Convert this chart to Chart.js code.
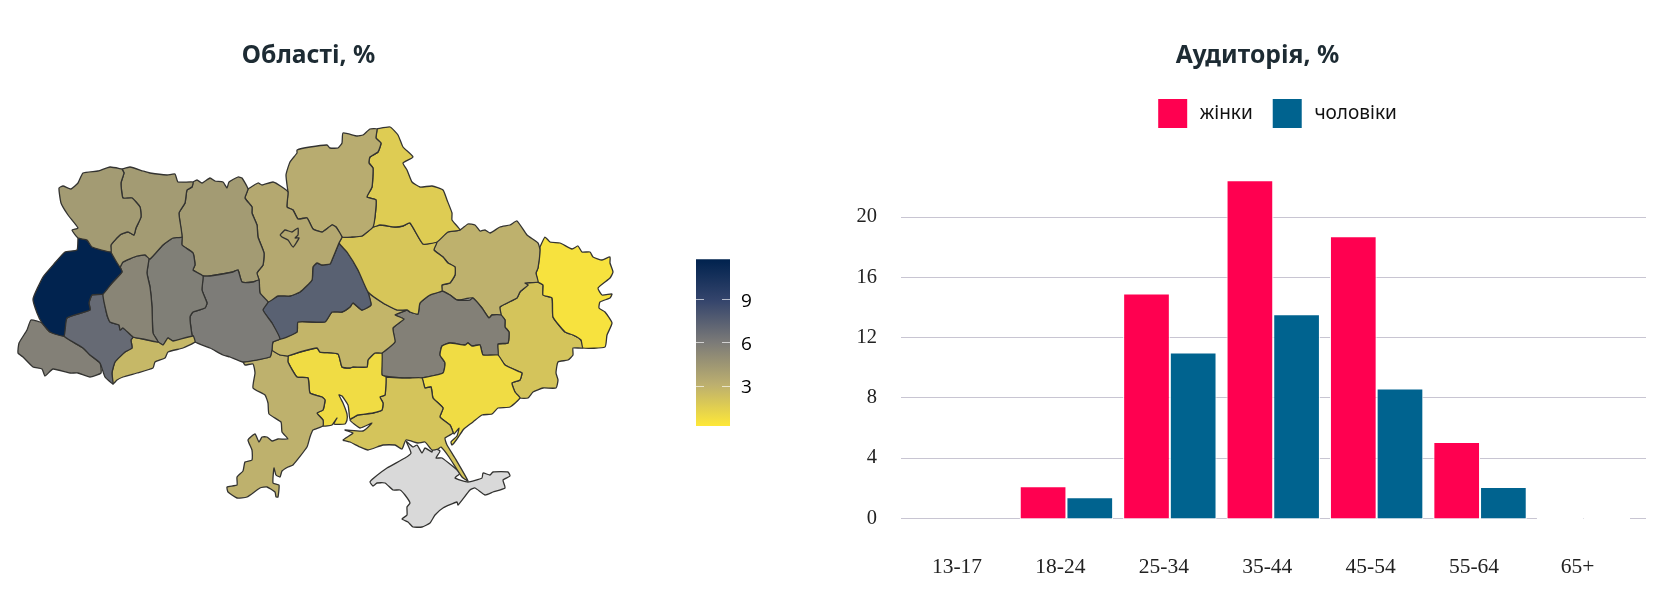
<!DOCTYPE html>
<html lang="uk">
<head>
<meta charset="utf-8">
<title>Області, Аудиторія</title>
<script src="https://cdn.jsdelivr.net/npm/chart.js@4"></script>
<style>
  html, body { margin: 0; background: #fff; }
  canvas { position: absolute; }
  #mapChart { left: 0; top: 0; }
  #scaleChart { left: 696px; top: 200px; }
  #audienceChart { left: 840px; top: 0; }
</style>
</head>
<body>
<canvas id="mapChart" width="617" height="606"></canvas>
<canvas id="scaleChart" width="90" height="300"></canvas>
<canvas id="audienceChart" width="832" height="606"></canvas>
<script>
// Аудиторія
const ageGroups = ['13-17', '18-24', '25-34', '35-44', '45-54', '55-64', '65+'];
const women = [null, 2.12, 14.93, 22.45, 18.72, 5.06, 0.03];
const men = [null, 1.4, 11.0, 13.55, 8.62, 2.07, 0.03];
const audienceTicks = [0, 4, 8, 12, 16, 20];

// Області: значення
const regionNames = ['volyn', 'rivne', 'lviv', 'ternopil', 'frankivsk', 'zakarpattia', 'chernivtsi', 'khmelnytskyi',
  'vinnytsia', 'zhytomyr', 'kyivCity', 'kyiv', 'chernihiv', 'sumy', 'poltava', 'cherkasy', 'kirovohrad', 'odesa',
  'mykolaiv', 'kherson', 'crimea', 'zaporizhzhia', 'dnipro', 'kharkiv', 'luhansk', 'donetsk'];
const regionValues = [4.25, 4.25, 11.7, 5.42, 6.9, 5.7, 2.68, 5.8,
  5.95, 4.25, 3.5, 3.5, 3.3, 1.65, 1.95, 7.4, 2.81, 3.03,
  0.85, 2.08, null, 0.85, 5.7, 3.03, 0.55, 2.08];

// Області: контури (одиниці карти)
const volyn = [[122,169],[110,167],[98,171],[83,173],[78,183],[71,189],[63,186],[59,188],[61,203],[68,215],[78,228],[72,230],[78,238],[87,240],[92,247],[111,252],[111,245],[120,235],[128,232],[134,235],[136,228],[141,217],[140,207],[132,198],[123,198],[121,183],[124,173]];
const rivne = [[122,169],[130,167],[143,171],[150,173],[167,175],[175,174],[178,182],[193,182],[192,187],[187,190],[185,203],[179,213],[182,237],[173,238],[163,245],[150,259],[145,255],[137,256],[123,262],[120,267],[111,252],[111,245],[120,235],[128,232],[134,235],[136,228],[141,217],[140,207],[132,198],[123,198],[121,183],[124,173]];
const lviv = [[78,238],[87,240],[92,247],[111,252],[120,267],[122,272],[112,283],[103,294],[92,295],[89,303],[90,310],[67,318],[64,336],[50,332],[42,323],[37,313],[33,299],[43,277],[54,264],[65,252],[77,250]];
const ternopil = [[120,267],[123,262],[137,256],[145,255],[149,258],[147,273],[150,287],[152,307],[153,333],[158,342],[143,339],[133,337],[123,328],[120,330],[119,325],[110,322],[107,315],[103,294],[112,283],[122,272]];
const frankivsk = [[103,294],[107,315],[110,322],[119,325],[120,330],[123,328],[133,337],[131,340],[132,348],[125,352],[115,362],[112,373],[113,384],[105,377],[100,363],[90,355],[83,348],[73,342],[64,336],[67,318],[90,310],[89,303],[92,295]];
const zakarpattia = [[64,336],[73,342],[83,348],[90,355],[100,363],[101,373],[90,377],[78,373],[70,373],[53,369],[45,376],[42,369],[33,367],[23,357],[18,353],[19,343],[27,330],[31,320],[42,323],[50,332]];
const chernivtsi = [[133,337],[143,339],[158,342],[163,345],[168,338],[173,341],[193,336],[195,342],[183,348],[168,352],[165,358],[155,362],[153,368],[137,373],[123,377],[117,380],[113,384],[112,373],[115,362],[125,352],[132,348],[131,340]];
const khmelnytskyi = [[149,258],[150,259],[163,245],[173,238],[182,237],[182,245],[193,253],[195,265],[193,270],[203,276],[202,290],[207,303],[205,308],[193,312],[190,317],[192,335],[193,336],[173,341],[168,338],[163,345],[158,342],[153,333],[152,307],[150,287],[147,273]];
const vinnytsia = [[203,276],[210,276],[233,272],[238,270],[242,282],[253,282],[259,280],[260,293],[268,302],[263,310],[272,323],[280,339],[273,342],[272,350],[270,357],[243,362],[230,357],[223,355],[210,348],[195,342],[193,336],[192,335],[190,317],[193,312],[205,308],[207,303],[202,290]];
const zhytomyr = [[193,182],[197,180],[202,183],[210,178],[215,181],[223,182],[227,188],[229,182],[238,177],[242,178],[248,189],[245,198],[252,207],[252,213],[257,225],[258,237],[264,253],[263,265],[257,273],[259,280],[253,282],[242,282],[238,270],[233,272],[210,276],[203,276],[193,270],[195,265],[193,253],[182,245],[182,237],[179,213],[185,203],[187,190],[192,187]];
const kyiv = [[248,189],[258,183],[262,185],[273,182],[282,187],[288,192],[287,207],[293,210],[298,219],[307,218],[313,229],[322,232],[332,225],[336,227],[342,237],[339,243],[332,260],[330,264],[322,265],[317,263],[313,267],[312,280],[300,292],[290,296],[278,296],[268,302],[260,293],[259,280],[257,273],[263,265],[264,253],[258,237],[257,225],[252,213],[252,207],[245,198]];
const kyivCity = [[280,235],[285,230],[292,232],[298,228],[298,235],[295,238],[299,238],[293,247],[288,240],[282,237]];
const chernihiv = [[288,192],[286,175],[290,162],[297,153],[297,150],[310,147],[327,145],[330,148],[338,148],[342,143],[343,133],[357,136],[363,135],[370,129],[377,129],[376,138],[381,143],[378,152],[370,157],[369,163],[373,168],[372,187],[367,197],[376,200],[375,217],[373,227],[362,236],[352,237],[342,237],[336,227],[332,225],[322,232],[313,229],[307,218],[298,219],[293,210],[287,207]];
const sumy = [[377,129],[390,127],[398,135],[403,147],[413,157],[403,163],[407,170],[412,182],[420,187],[432,186],[443,190],[447,200],[452,213],[452,220],[460,230],[448,232],[437,242],[423,244],[410,223],[403,226],[395,227],[380,225],[373,227],[375,217],[376,200],[367,197],[372,187],[373,168],[369,163],[370,157],[378,152],[381,143],[376,138]];
const poltava = [[342,237],[352,237],[362,236],[373,227],[380,225],[395,227],[403,226],[410,223],[423,244],[437,242],[434,250],[443,257],[448,263],[455,267],[455,275],[450,283],[442,285],[442,291],[430,295],[420,303],[418,314],[410,312],[407,310],[397,310],[383,303],[368,292],[358,270],[347,252],[339,243]];
const cherkasy = [[339,243],[347,252],[358,270],[368,292],[371,305],[362,310],[353,303],[350,307],[342,312],[332,312],[325,322],[298,322],[297,332],[280,339],[272,323],[263,310],[268,302],[278,296],[290,296],[300,292],[312,280],[313,267],[317,263],[322,265],[330,264],[332,260]];
const kirovohrad = [[280,339],[297,332],[298,322],[325,322],[332,312],[342,312],[350,307],[353,303],[362,310],[371,305],[368,292],[383,303],[397,310],[407,310],[395,315],[404,319],[393,328],[395,342],[382,353],[375,353],[368,360],[367,367],[353,367],[350,368],[342,367],[338,354],[320,352],[317,348],[300,352],[288,356],[280,355],[272,350],[273,342]];
const odesa = [[243,362],[270,357],[272,350],[280,355],[288,356],[288,362],[297,377],[308,378],[310,393],[322,397],[325,400],[323,410],[317,413],[323,420],[323,426],[313,430],[310,437],[307,447],[293,465],[288,467],[282,471],[280,477],[276,475],[274,468],[273,483],[279,485],[278,497],[276,497],[275,492],[267,487],[260,488],[247,497],[237,498],[228,492],[227,487],[237,485],[237,477],[243,471],[245,462],[252,460],[252,450],[248,440],[255,434],[259,442],[262,437],[267,437],[272,441],[278,439],[288,439],[282,432],[281,422],[269,414],[268,403],[265,395],[253,388],[255,373],[253,364],[245,365]];
const mykolaiv = [[288,356],[300,352],[317,348],[320,352],[338,354],[342,367],[350,368],[353,367],[367,367],[368,360],[375,353],[382,353],[382,375],[386,377],[385,395],[380,397],[383,403],[382,410],[373,413],[358,415],[350,419],[349,412],[348,405],[342,396],[339,395],[343,403],[347,414],[347,420],[345,424],[334,424],[337,418],[332,425],[323,426],[323,420],[317,413],[323,410],[325,400],[322,397],[310,393],[308,378],[297,377],[288,362]];
const kherson = [[386,377],[402,378],[410,378],[422,378],[425,388],[431,387],[433,398],[443,408],[440,417],[450,425],[453,433],[445,438],[447,445],[455,458],[468,481],[462,477],[449,457],[441,447],[438,449],[432,450],[425,442],[418,443],[406,440],[402,449],[395,445],[383,445],[368,450],[360,447],[350,442],[343,440],[353,433],[345,430],[363,431],[372,423],[360,428],[350,420],[358,415],[373,413],[382,410],[383,403],[380,397],[385,395]];
const crimea = [[406,441],[413,447],[417,445],[422,453],[425,448],[432,452],[433,448],[440,451],[436,458],[442,458],[460,473],[455,478],[468,482],[482,478],[483,473],[490,475],[493,472],[508,472],[510,476],[503,480],[505,488],[493,492],[485,495],[475,488],[470,490],[458,505],[457,502],[443,508],[435,515],[430,523],[422,527],[413,527],[408,522],[402,519],[407,515],[407,507],[410,503],[405,495],[400,490],[393,490],[385,483],[377,483],[373,486],[370,482],[375,477],[387,468],[405,458],[411,453]];
const zaporizhzhia = [[422,378],[443,373],[445,363],[440,355],[442,346],[450,343],[465,345],[468,343],[472,346],[480,345],[483,355],[498,355],[505,365],[520,372],[522,373],[520,380],[512,383],[515,392],[520,398],[510,407],[498,408],[492,414],[482,415],[473,422],[465,428],[463,430],[457,439],[452,445],[451,442],[457,436],[459,428],[454,434],[450,425],[440,417],[443,408],[433,398],[431,387],[425,388]];
const dnipro = [[395,342],[393,328],[404,319],[395,315],[407,310],[410,312],[418,314],[420,303],[430,295],[442,291],[450,295],[457,300],[470,300],[473,298],[482,308],[489,318],[492,315],[501,315],[505,320],[505,327],[509,332],[508,343],[498,344],[498,355],[483,355],[480,345],[472,346],[468,343],[465,345],[450,343],[442,346],[440,355],[445,363],[443,373],[422,378],[410,378],[402,378],[382,375],[382,353]];
const kharkiv = [[433,243],[448,232],[460,230],[468,224],[475,225],[480,231],[485,230],[490,233],[500,227],[510,225],[517,221],[527,235],[538,243],[540,250],[538,268],[536,273],[538,282],[525,283],[528,285],[520,292],[517,298],[500,307],[501,315],[492,315],[489,318],[482,308],[473,298],[457,300],[450,295],[442,291],[442,285],[450,283],[455,275],[455,267],[448,263],[443,257],[434,250]];
const luhansk = [[540,247],[545,237],[550,242],[560,243],[572,249],[578,246],[582,252],[590,252],[593,257],[602,260],[610,257],[610,263],[613,272],[610,278],[598,288],[602,295],[612,294],[610,298],[600,302],[599,308],[605,312],[612,323],[607,335],[605,347],[583,348],[581,340],[573,335],[565,332],[553,317],[552,298],[543,295],[543,285],[538,282],[536,273],[538,268]];
const donetsk = [[538,282],[543,285],[543,295],[552,298],[553,317],[565,332],[573,335],[581,340],[583,348],[573,348],[573,355],[568,360],[558,362],[556,373],[558,380],[556,388],[543,388],[533,392],[528,398],[520,398],[515,392],[512,383],[520,380],[522,373],[520,372],[505,365],[498,355],[498,344],[508,343],[509,332],[505,327],[505,320],[501,315],[500,307],[517,298],[520,292],[528,285],[525,283]];
// першим у списку малюється зверху, тому місто Київ перед областю
const regionShapes = [volyn, rivne, lviv, ternopil, frankivsk, zakarpattia, chernivtsi, khmelnytskyi,
  vinnytsia, zhytomyr, kyivCity, kyiv, chernihiv, sumy, poltava, cherkasy, kirovohrad, odesa,
  mykolaiv, kherson, crimea, zaporizhzhia, dnipro, kharkiv, luhansk, donetsk];

// Шкала кольорів
const scaleMin = 0.24;
const scaleMax = 11.76;
const scaleTicks = [3, 6, 9];
const scaleColors = [[254, 232, 56], [188, 175, 111], [124, 123, 120], [53, 69, 108], [0, 34, 78]];
const noDataColor = '#d9d9d9';

function colorForValue(value) {
  if (value === null) return noDataColor;
  const t = (value - scaleMin) / (scaleMax - scaleMin) * (scaleColors.length - 1);
  const i = Math.min(Math.floor(t), scaleColors.length - 2);
  const c = scaleColors[i].map((v, k) => Math.round(v + (scaleColors[i + 1][k] - v) * (t - i)));
  return `rgb(${c.join(',')})`;
}

const titleColor = '#1d2b33';
const titleFont = { family: '"Noto Sans"', size: 24.7, weight: 'bold' };

// карта
new Chart(document.getElementById('mapChart'), {
  type: 'scatter',
  data: {
    datasets: regionShapes.map((shape, i) => ({
      label: regionNames[i],
      data: shape.concat([shape[0]]).map(p => ({ x: p[0], y: p[1] })),
      showLine: true,
      fill: 'shape',
      tension: 0.15,
      backgroundColor: colorForValue(regionValues[i]),
      borderColor: '#333331',
      borderWidth: 1.3,
      pointRadius: 0
    }))
  },
  options: {
    responsive: false,
    animation: false,
    plugins: {
      legend: { display: false },
      tooltip: { enabled: false },
      title: {
        display: true,
        text: 'Області, %',
        color: titleColor,
        font: titleFont,
        padding: { top: 41, bottom: 29.36 }
      }
    },
    scales: {
      x: { display: false, min: 0, max: 617 },
      y: { display: false, min: 100, max: 606, reverse: true }
    }
  }
});

// шкала кольорів
new Chart(document.getElementById('scaleChart'), {
  type: 'bar',
  data: {
    labels: [''],
    datasets: [{
      data: [[scaleMin, scaleMax]],
      barPercentage: 1,
      categoryPercentage: 1,
      backgroundColor: (ctx) => {
        const area = ctx.chart.chartArea;
        if (!area) return scaleColors[0];
        const gradient = ctx.chart.ctx.createLinearGradient(0, area.bottom, 0, area.top);
        scaleColors.forEach((c, i) => gradient.addColorStop(i / (scaleColors.length - 1), `rgb(${c.join(',')})`));
        return gradient;
      }
    }]
  },
  options: {
    responsive: false,
    animation: false,
    layout: { padding: { top: 59.3, bottom: 74 } },
    plugins: { legend: { display: false }, tooltip: { enabled: false } },
    scales: {
      x: { display: false },
      y: {
        position: 'right',
        min: scaleMin,
        max: scaleMax,
        afterBuildTicks: (scale) => { scale.ticks = scaleTicks.map(value => ({ value })); },
        afterFit: (scale) => { scale.width = 56; },
        ticks: { padding: 11, labelOffset: 2, color: '#000', font: { family: '"Open Sans"', size: 19 } },
        grid: { color: 'rgba(255,255,255,0.65)', z: 1, drawTicks: false },
        border: { display: false, dash: [8, 18] }
      }
    }
  }
});

// заголовок і легенда стоять не по центру області графіка
const shiftHeader = {
  id: 'shiftHeader',
  afterLayout(chart) {
    chart.titleBlock.left += 14.5;
    chart.titleBlock.right += 14.5;
    chart.legend.left += 4;
    chart.legend.right += 4;
  }
};

// аудиторія
new Chart(document.getElementById('audienceChart'), {
  type: 'bar',
  data: {
    datasets: [
      { label: 'жінки', data: women.map((y, x) => ({ x, y })), backgroundColor: '#ff0050' },
      { label: 'чоловіки', data: men.map((y, x) => ({ x, y })), backgroundColor: '#00638f' }
    ]
  },
  plugins: [shiftHeader],
  options: {
    responsive: false,
    animation: false,
    layout: { padding: { right: 26, bottom: 27.7 } },
    datasets: {
      bar: {
        barPercentage: 1,
        categoryPercentage: 0.903,
        borderColor: '#fff',
        borderWidth: 1,
        borderSkipped: false,
        // біла рамка перекриває нульову лінію під стовпчиками
        base: -0.07,
        clip: 4
      }
    },
    plugins: {
      tooltip: { enabled: false },
      title: {
        display: true,
        text: 'Аудиторія, %',
        color: titleColor,
        font: titleFont,
        padding: { top: 41, bottom: 8.36 }
      },
      legend: {
        fullSize: false,
        labels: {
          boxWidth: 29,
          boxHeight: 29,
          padding: 20,
          color: '#111',
          font: { family: '"Noto Sans"', size: 19 },
          generateLabels: (chart) => Chart.defaults.plugins.legend.labels.generateLabels(chart)
            .map(item => ({ ...item, text: '\u2009' + item.text, lineWidth: 0 }))
        }
      }
    },
    scales: {
      x: {
        type: 'linear',
        offset: false,
        min: -0.6,
        max: 6.605,
        afterBuildTicks: (scale) => { scale.ticks = ageGroups.map((_, value) => ({ value })); },
        afterFit: (scale) => { scale.height = 60; },
        ticks: {
          callback: (value) => ageGroups[value],
          labelOffset: -6,
          padding: 36,
          maxRotation: 0,
          autoSkip: false,
          color: '#222',
          font: { family: '"Liberation Serif"', size: 21.5 }
        },
        grid: { display: false, drawTicks: false },
        border: { display: false }
      },
      y: {
        min: 0,
        max: 25.25,
        afterBuildTicks: (scale) => { scale.ticks = audienceTicks.map(value => ({ value })); },
        afterFit: (scale) => { scale.width = 61; },
        ticks: {
          padding: 24,
          color: '#222',
          font: { family: '"Liberation Serif"', size: 20.5 }
        },
        grid: { color: '#c8c5d2', drawTicks: false },
        border: { display: false }
      }
    }
  }
});
</script>
</body>
</html>
